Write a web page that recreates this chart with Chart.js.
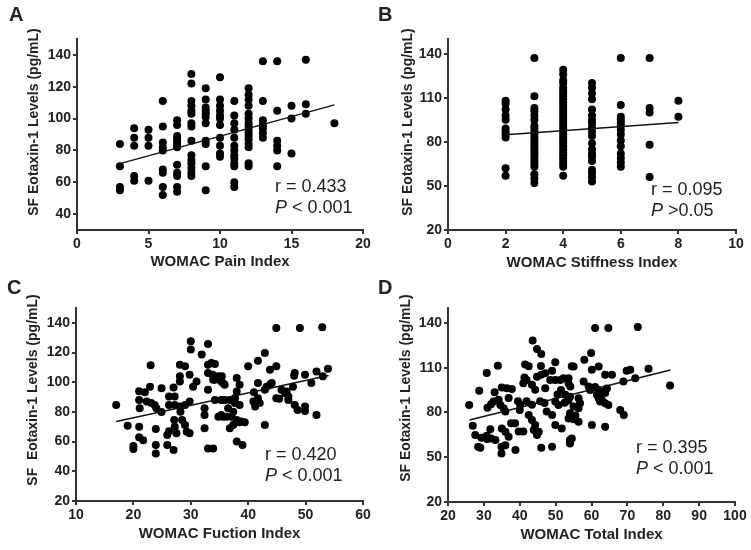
<!DOCTYPE html>
<html lang="en">

<head>
    <meta charset="UTF-8">
    <title>Eotaxin-1 vs WOMAC</title>
    <script src="https://cdn.jsdelivr.net/npm/chart.js"></script>

    <style>
        body {
            margin: 0;
            width: 751px;
            height: 550px;
            background: #ffffff;
            font-family: "Liberation Sans", Arial, sans-serif;
            color: #222;
            position: relative;
            overflow: hidden;
        }

        .panel {
            position: absolute;
        }

        .letter {
            position: absolute;
            font-size: 20px;
            font-weight: bold;
            line-height: 1;
        }

        .ytitle {
            position: absolute;
            font-size: 14px;
            font-weight: bold;
            white-space: pre;
            transform: translate(-50%, -50%) rotate(-90deg);
        }

        .stats {
            position: absolute;
            font-size: 18px;
            line-height: 21px;
            white-space: pre;
        }
    </style>
</head>

<body>
    <div class="panel" style="left:0;top:0"><canvas id="chartA" width="375" height="275"></canvas></div>
    <div class="panel" style="left:375px;top:0"><canvas id="chartB" width="376" height="275"></canvas></div>
    <div class="panel" style="left:0;top:275px"><canvas id="chartC" width="375" height="275"></canvas></div>
    <div class="panel" style="left:375px;top:275px"><canvas id="chartD" width="376" height="275"></canvas></div>

    <div class="letter" style="left:9px;top:4px">A</div>
    <div class="letter" style="left:378px;top:4px">B</div>
    <div class="letter" style="left:7px;top:277px">C</div>
    <div class="letter" style="left:378px;top:277px">D</div>

    <div class="ytitle" style="left:33px;top:122px">SF Eotaxin-1 Levels (pg/mL)</div>
    <div class="ytitle" style="left:407px;top:122px">SF Eotaxin-1 Levels (pg/mL)</div>
    <div class="ytitle" style="left:32px;top:390px">SF  Eotaxin-1 Levels (pg/mL)</div>
    <div class="ytitle" style="left:405px;top:388px">SF Eotaxin-1 Levels (pg/mL)</div>

    <div class="stats" style="left:275px;top:176px">r = 0.433<br><i>P</i> &lt; 0.001</div>
    <div class="stats" style="left:651px;top:179px">r = 0.095<br><i>P</i> &gt;0.05</div>
    <div class="stats" style="left:265px;top:444px">r = 0.420<br><i>P</i> &lt; 0.001</div>
    <div class="stats" style="left:636px;top:437px">r = 0.395<br><i>P</i> &lt; 0.001</div>

    <script>
        // A: pain index (integer levels), eotaxin values per level
        const painLevels = [3, 4, 5, 6, 7, 8, 9, 10, 11, 12, 13, 14, 15, 16, 18];
        const painEotaxin = [
            [84, 70, 57, 55],
            [94, 88, 83, 64, 61],
            [93, 88, 83, 61],
            [111, 95, 85, 82, 80, 68, 66, 57, 52],
            [99, 96, 89, 87, 85, 83, 82, 71, 66, 64, 57, 54],
            [128, 122, 111, 108, 105, 103, 97, 95, 86, 77, 74, 72, 69, 66, 64],
            [119, 112, 107, 105, 103, 101, 97, 86, 84, 70, 55],
            [126, 112, 108, 105, 102, 100, 96, 88, 83, 78, 76],
            [111, 102, 97, 93, 88, 83, 80, 77, 75, 72, 70, 60, 57],
            [119, 115, 112, 108, 103, 100, 97, 95, 93, 91, 89, 87, 84, 82, 72, 70],
            [136, 111, 99, 96, 94, 91, 88],
            [136, 105, 86, 83, 80, 70],
            [108, 100, 78],
            [137, 109, 103],
            [97]
        ];
        const painFitX = [3, 18];
        const painFitY = [71.7, 108.6];

        // B: stiffness index
        const stiffLevels = [2, 3, 4, 5, 6, 7, 8];
        const stiffEotaxin = [
            [108, 106, 102, 98, 95, 89, 87, 85, 83, 62, 57],
            [137, 111, 103, 101, 98, 95, 91, 89, 87, 85, 83, 81, 79, 77, 75, 73, 71, 69, 67, 65, 63, 58, 55, 52],
            [129, 126, 122, 120, 117, 115, 113, 111, 109, 107, 105, 103, 101, 99, 97, 95, 93, 91, 89, 87, 85, 83, 81, 79, 77, 75, 73, 71, 69, 67, 65, 63, 57],
            [120, 117, 113, 109, 102, 98, 95, 93, 90, 87, 84, 79, 75, 72, 70, 67, 61, 59, 56, 53],
            [137, 105, 97, 95, 93, 91, 88, 85, 81, 77, 72, 69, 66, 63],
            [137, 103, 100, 78, 56],
            [108, 97]
        ];
        const stiffFitX = [2, 8];
        const stiffFitY = [84.8, 93.2];

        // C: function index
        const funcX = [17, 19, 20, 20, 21, 21, 21.1, 21, 21, 21.7, 23, 22.9, 22, 22.3, 23.1, 23.7, 24, 24.9, 23.9, 23.9,
            23.9, 24.9, 26.2, 26.2, 26.2, 25.9, 25.9, 27, 27, 27.2, 27.2, 27.1, 27.2, 27.5, 28.1, 29, 28.1, 28.1, 28.1, 28.2,
            28.5, 29, 29.3, 29.8, 30, 30, 31, 30.4, 29.8, 29, 29.8, 31.9, 33, 33, 33.6, 33, 33.8, 33.9, 33, 32.4,
            32.4, 32.4, 33, 33.9, 35.4, 35.6, 35.6,
            34.2, 34.2, 34.8, 35.3, 35.9, 38, 38.5, 40, 41.7, 42.9, 41.7, 41, 38, 37.7, 34.2, 35.3, 35.9, 36.8, 37.7, 38.5,
            36.5, 37.4, 35.3, 36.2, 37.1, 34.8, 38, 38.5, 39.4, 36.8, 40.9, 41.2, 41.7, 42, 42.9, 43.2, 42.9, 43.8, 44.1, 43.8,
            44.9, 44.9, 44.9, 45.8, 46.4, 46.7, 47, 47, 47.8, 48.1, 48, 48.1, 49, 49.9, 49.9, 49.9, 51, 51.9, 51.9, 53,
            52.9, 53.9, 37.4, 38, 39, 38.8, 45.4, 48.6];
        const funcEotaxin = [84.7, 70.7, 57, 55, 94, 88, 82.5, 70, 63, 61, 111.4, 97, 93.3, 87, 86, 84.7, 82.5, 80, 68.5, 57.7,
            52, 96, 90.4, 84.7, 67, 64.4, 57.7, 54.3, 96.5, 90.4, 84.7, 74.6, 70, 65.6, 111.8, 110.7, 104, 100.5, 83.6, 80.2,
            74.6, 71.2, 66.7, 105, 127.6, 122, 100.5, 97, 87, 84.7, 65.6, 118.6, 125.8, 111.8, 113, 106.2, 105, 101.6, 95, 82.5,
            78, 69, 55.4, 55.4, 104, 99.4, 76.8,
            112.3, 101.6, 104, 100.5, 98.3, 102.8, 98.3, 110.7, 114.5, 119.7, 99.4, 93.3, 93.8, 89.3, 88, 88, 88, 88, 86, 84.7,
            82.5, 80.2, 78, 76.8, 76.8, 76.8, 74.6, 73, 73, 69, 87, 83.6, 89.2, 86, 95, 97, 71.2, 98.3, 99.4, 108.4,
            110.7, 136.6, 89.2, 95, 92.6, 93.8, 90.4, 88, 97, 106.2, 104.4, 84.7, 136.6, 105, 83.6, 80.7, 99.4, 78, 107.3, 104,
            137, 109.1, 71.2, 60, 57.7, 73.5, 88.8, 81.3];
        const funcFitX = [17, 54];
        const funcFitY = [73.5, 104.5];

        // D: total index
        const totalX = [25.9, 26.9, 28.4, 29, 28.7, 30.8, 33.9, 31, 32, 32.7, 33, 30.8, 32, 33.2, 35, 36.4, 37.8, 34.1, 34.6, 35.5,
            36, 36.9, 35, 36, 36.9, 34.9, 36, 34.9, 37.6, 38.8, 39.5, 40.1, 40, 39.7, 41, 41.5, 42.5, 41, 41.9, 41.3,
            43.4, 44.3, 43.6, 44.8, 46, 45.9, 42.5, 43.4, 44.3, 45.7, 46.9, 47.1, 46, 49, 47.5, 49, 49.9, 49, 48.5, 49.9,
            51.3, 49.9, 51.7, 54, 54.5, 54.5,
            44.8, 46, 47.1, 43.9, 45.3, 44.8, 41.9, 43.4, 49.9, 50.8, 52.2, 53.6, 53.6, 54, 27.6, 29.3, 30.9, 31.8, 38.7,
            61, 64.7, 72.9, 59.9, 58, 62, 55, 60.1, 63.8, 65.7, 69.8, 70.8, 75.9, 72.2, 68.9, 81.9, 53.6, 54.1, 57.8, 59.2,
            61, 62, 62.4, 62.9, 61.5, 62, 62.9, 62.4, 64.3, 63.8, 59.6, 52.7, 54, 56.4, 56.8, 56.4, 63.8, 64.7, 68, 69,
            56.4, 60.1, 63.8, 54, 54,
            53.6, 55, 51.5, 52.5, 55.5, 50.5, 55];
        const totalEotaxin = [85, 71.1, 57, 56.3, 94.5, 106.4, 111.3, 83.2, 85.5, 87.3, 93.6, 64.4, 62.6, 61.5, 96.7, 96.3, 95.8, 88.5, 85, 82.8,
            80.6, 89.7, 69.3, 67.1, 63.7, 57, 58.1, 52.5, 72.7, 54.8, 87.5, 85.1, 81.7, 67.3, 67.3, 112.1, 111, 99.6, 101.8, 103.4,
            98.5, 95.2, 128.2, 122.6, 119.2, 111.2, 78.3, 74.9, 71.6, 87.5, 86.4, 96.3, 56.3, 57, 80.6, 78.3, 113.6, 108, 101.8, 101.8,
            101.8, 71.6, 69.3, 60, 62.6, 111,
            104, 105.2, 106.3, 68.3, 67.1, 64.9, 87.5, 85.2, 87.3, 85, 103, 99.6, 76, 79.4, 64.9, 63, 62.2, 68.7, 72.7,
            136.6, 136.6, 137.3, 119.8, 115.3, 110.8, 110.8, 108.6, 105.2, 105.2, 107.9, 108.6, 109.3, 103, 100.7, 98.1, 103, 97.4, 100.7, 97.4,
            97, 95, 94, 93, 91.8, 89.5, 88.4, 87.3, 96, 93, 95.1, 91.8, 90.6, 89.5, 86.2, 82.8, 86.2, 85, 81.7, 78.3,
            73.8, 71.6, 70.5, 61.5, 59.2,
            88, 84, 95, 86.5, 78, 92, 75.5];
        const totalFitX = [26, 82];
        const totalFitY = [75, 108.5];

        // tick labels
        const painTicks = [0, 5, 10, 15, 20];
        const stiffTicks = [0, 2, 4, 6, 8, 10];
        const funcTicks = [10, 20, 30, 40, 50, 60];
        const totalTicks = [20, 30, 40, 50, 60, 70, 80, 90, 100];
        const yTicks20 = [40, 60, 80, 100, 120, 140];
        const yTicks30 = [20, 50, 80, 110, 140];
        const yTicksC = [20, 40, 60, 80, 100, 120, 140];

        Chart.defaults.font.family = '"Liberation Sans", Arial, sans-serif';

        function fromGroups(levels, groups) {
            const pts = [];
            levels.forEach((lv, i) => groups[i].forEach(v => pts.push({ x: lv, y: v })));
            return pts;
        }

        function fromPairs(xs, ys) {
            return xs.map((x, i) => ({ x: x, y: ys[i] }));
        }

        function makePanel(id, pts, fit, o) {
            const cv = document.getElementById(id);
            const W = cv.width, H = cv.height;
            const axisLine = { color: '#333', width: 2 };
            const tickGrid = { drawOnChartArea: false, color: '#333', lineWidth: 2, tickLength: 4 };
            const tickFont = { size: 14, weight: 'bold' };
            return new Chart(cv, {
                type: 'scatter',
                data: {
                    datasets: [
                        { data: fit, showLine: true, borderColor: '#111', borderWidth: 1.5, pointRadius: 0 },
                        { data: pts, backgroundColor: '#000', borderWidth: 0, pointRadius: 4 }
                    ]
                },
                options: {
                    responsive: false,
                    animation: false,
                    layout: { padding: { left: 0, top: o.box[1], right: W - o.box[2], bottom: 0 } },
                    plugins: { legend: { display: false }, tooltip: { enabled: false } },
                    scales: {
                        x: {
                            type: 'linear', min: o.xr[0], max: o.xr[1],
                            afterBuildTicks: s => { s.ticks = o.xTicks.map(v => ({ value: v })); },
                            afterFit: s => { s.height = H - o.box[3]; },
                            border: axisLine, grid: tickGrid,
                            ticks: { color: '#222', font: tickFont, padding: 2, maxRotation: 0 },
                            title: {
                                display: true, text: o.xTitle, color: '#222',
                                font: { size: 15, weight: 'bold' }, padding: { top: 0, bottom: o.titlePad }
                            }
                        },
                        y: {
                            type: 'linear', min: o.yr[0], max: o.yr[1],
                            afterBuildTicks: s => { s.ticks = o.yTicks.map(v => ({ value: v })); },
                            afterFit: s => { s.width = o.box[0]; },
                            border: axisLine, grid: tickGrid,
                            ticks: { color: '#222', font: tickFont, padding: 2 }
                        }
                    }
                }
            });
        }

        makePanel('chartA', fromGroups(painLevels, painEotaxin), fromPairs(painFitX, painFitY), {
            box: [77, 39, 363, 230], xr: [0, 20], yr: [30, 150], xTicks: painTicks, yTicks: yTicks20,
            xTitle: 'WOMAC Pain Index', titlePad: 4
        });
        makePanel('chartB', fromGroups(stiffLevels, stiffEotaxin), fromPairs(stiffFitX, stiffFitY), {
            box: [73, 39, 361, 230], xr: [0, 10], yr: [20, 150], xTicks: stiffTicks, yTicks: yTicks30,
            xTitle: 'WOMAC Stiffness Index', titlePad: 3
        });
        makePanel('chartC', fromPairs(funcX, funcEotaxin), fromPairs(funcFitX, funcFitY), {
            box: [76, 33, 363, 226], xr: [10, 60], yr: [20, 150], xTicks: funcTicks, yTicks: yTicksC,
            xTitle: 'WOMAC Fuction Index', titlePad: 7
        });
        makePanel('chartD', fromPairs(totalX, totalEotaxin), fromPairs(totalFitX, totalFitY), {
            box: [73, 33, 360, 227], xr: [20, 100], yr: [20, 150], xTicks: totalTicks, yTicks: yTicks30,
            xTitle: 'WOMAC Total Index', titlePad: 6
        });
    </script>
</body>

</html>
